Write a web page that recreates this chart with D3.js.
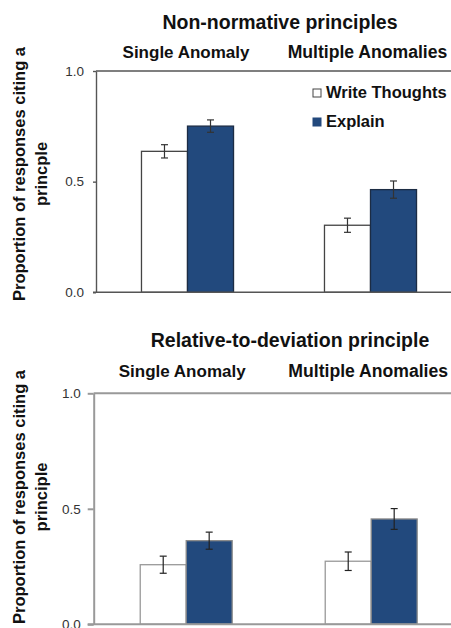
<!DOCTYPE html>
<html>
<head>
<meta charset="utf-8">
<script src="https://cdn.jsdelivr.net/npm/d3@7"></script>
<style>
  html, body { margin: 0; padding: 0; background: #fff; }
  svg { display: block; font-family: Arial, "Liberation Sans", sans-serif; }
</style>
</head>
<body>
<svg id="chart" width="451" height="628"></svg>
<script>
// ---- data ----
const categories = ["Single Anomaly", "Multiple Anomalies"];
const seriesNames = ["Write Thoughts", "Explain"];
const seriesColors = ["#ffffff", "#22497d"];
const yTicks = [0, 0.5, 1.0];

const panelTitles = ["Non-normative principles", "Relative-to-deviation principle"];
const yTitleLines1 = ["Proportion of responses citing a", "princple"];
const yTitleLines2 = ["Proportion of responses citing a", "principle"];

// values[category][series]
const nonNormValues = [[0.637, 0.751], [0.303, 0.464]];
const nonNormErrors = [[0.030, 0.028], [0.032, 0.039]];
const relDevValues = [[0.258, 0.362], [0.273, 0.456]];
const relDevErrors = [[0.037, 0.037], [0.040, 0.045]];

const svg = d3.select("#chart");

function drawPanel(cfg) {
  const g = svg.append("g");
  const x0 = d3.scaleBand().domain(categories)
    .range([cfg.left, cfg.right]).paddingInner(cfg.pad).paddingOuter(cfg.pad / 2);
  const x1 = d3.scaleBand().domain(seriesNames).range([0, x0.bandwidth()]);
  const y = d3.scaleLinear().domain([0, 1]).range([cfg.bottom, cfg.top]);

  // frame: top line
  g.append("line").attr("x1", cfg.left).attr("x2", 451).attr("y1", y(1)).attr("y2", y(1))
    .attr("stroke", cfg.axisColor).attr("stroke-width", cfg.axisWidth);

  // bars
  categories.forEach((c, ci) => {
    seriesNames.forEach((s, si) => {
      const v = cfg.values[ci][si];
      g.append("rect")
        .attr("x", x0(c) + x1(s))
        .attr("y", y(v))
        .attr("width", x1.bandwidth())
        .attr("height", y(0) - y(v))
        .attr("fill", seriesColors[si])
        .attr("stroke", si === 0 ? cfg.whiteStroke : cfg.blueStroke)
        .attr("stroke-width", 1.3);
    });
  });

  // error bars
  categories.forEach((c, ci) => {
    seriesNames.forEach((s, si) => {
      const v = cfg.values[ci][si], e = cfg.errors[ci][si];
      const cx = x0(c) + x1(s) + x1.bandwidth() / 2;
      const eg = g.append("g").attr("stroke", cfg.errColor).attr("stroke-width", 1.2);
      eg.append("line").attr("x1", cx).attr("x2", cx).attr("y1", y(v - e)).attr("y2", y(v + e));
      eg.append("line").attr("x1", cx - 3.5).attr("x2", cx + 3.5).attr("y1", y(v - e)).attr("y2", y(v - e));
      eg.append("line").attr("x1", cx - 3.5).attr("x2", cx + 3.5).attr("y1", y(v + e)).attr("y2", y(v + e));
    });
  });

  // y axis
  const yAxis = d3.axisLeft(y).tickValues(yTicks).tickFormat(d3.format(".1f"))
    .tickSizeInner(cfg.tickLen).tickSizeOuter(0).tickPadding(cfg.tickPad);
  const ya = g.append("g").attr("transform", `translate(${cfg.left},0)`).call(yAxis);
  ya.select(".domain").attr("stroke", cfg.axisColor).attr("stroke-width", cfg.axisWidth);
  ya.selectAll(".tick line").attr("stroke", cfg.axisColor).attr("stroke-width", cfg.axisWidth);
  ya.selectAll(".tick text").attr("font-size", 13.5).attr("fill", "#333")
    .attr("font-family", "Arial, 'Liberation Sans', sans-serif");

  // x baseline
  g.append("line").attr("x1", cfg.left - cfg.tickLen).attr("x2", 451).attr("y1", y(0)).attr("y2", y(0))
    .attr("stroke", cfg.axisColor).attr("stroke-width", cfg.axisWidth);

  // panel title
  g.append("text").attr("x", cfg.titleX).attr("y", cfg.titleY)
    .attr("text-anchor", "middle").attr("font-weight", "bold").attr("font-size", 19.5)
    .attr("fill", "#111").text(cfg.title);

  // category labels (above plot)
  categories.forEach((c, ci) => {
    g.append("text").attr("x", x0(c) + x0.bandwidth() / 2 + cfg.catDx[ci]).attr("y", cfg.catY)
      .attr("text-anchor", "middle").attr("font-weight", "bold").attr("font-size", ci === 0 ? 17 : 17.6)
      .attr("fill", "#111").text(c);
  });

  // y title
  const yt = g.append("text").attr("transform", `translate(0,${cfg.yTitleCenter}) rotate(-90)`)
    .attr("text-anchor", "middle").attr("font-weight", "bold").attr("font-size", 16.5).attr("fill", "#111");
  cfg.yTitle.forEach((t, i) => {
    yt.append("tspan").attr("x", 0).attr("y", i === 0 ? 25 : 47).text(t);
  });

  return { x0, x1, y };
}

drawPanel({
  left: 96, right: 462, top: 71, bottom: 292.3, pad: 0.497,
  values: nonNormValues, errors: nonNormErrors,
  axisColor: "#555", axisWidth: 1.4, tickLen: 3, tickPad: 9,
  whiteStroke: "#444", blueStroke: "#1c2c44", errColor: "#333",
  title: panelTitles[0], titleX: 280, titleY: 29,
  catY: 58, catDx: [-1.5, -3],
  yTitle: yTitleLines1, yTitleCenter: 174
});

drawPanel({
  left: 93.7, right: 463.7, top: 393.3, bottom: 624.3, pad: 0.503,
  values: relDevValues, errors: relDevErrors,
  axisColor: "#999", axisWidth: 2, tickLen: 6, tickPad: 7,
  whiteStroke: "#999", blueStroke: "#8a8a8a", errColor: "#222",
  title: panelTitles[1], titleX: 290, titleY: 346.5,
  catY: 377, catDx: [-4, -3],
  yTitle: yTitleLines2, yTitleCenter: 497
});

// legend (top panel)
const legend = svg.append("g");
seriesNames.forEach((s, i) => {
  const ly = 97 + i * 29;
  legend.append("rect").attr("x", 313).attr("y", ly - 8).attr("width", 8).attr("height", 8)
    .attr("fill", seriesColors[i]).attr("stroke", i === 0 ? "#444" : seriesColors[i]).attr("stroke-width", 1);
  legend.append("text").attr("x", 326).attr("y", ly + 0.5)
    .attr("font-weight", "bold").attr("font-size", 16.5).attr("fill", "#111").text(s);
});
</script>
</body>
</html>
